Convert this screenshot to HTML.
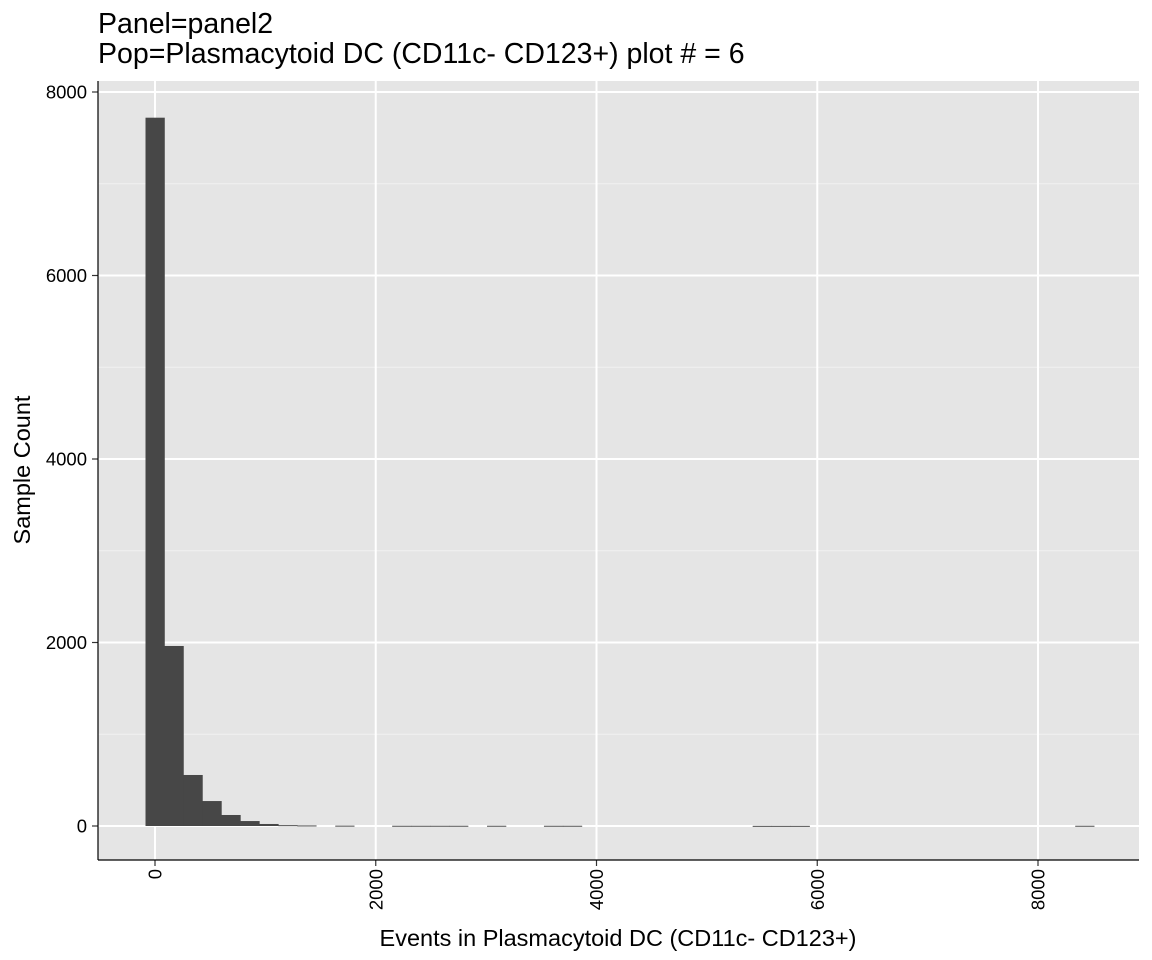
<!DOCTYPE html>
<html><head><meta charset="utf-8"><style>
html,body{margin:0;padding:0;background:#fff;}
svg{display:block;font-family:"Liberation Sans",Arial,sans-serif;}
</style></head><body>
<svg id="chart" width="1152" height="960">
<text x="98" y="33" font-size="28.5" fill="#000">Panel=panel2</text>
<text x="98" y="63" font-size="28.5" fill="#000">Pop=Plasmacytoid DC (CD11c- CD123+) plot # = 6</text>
<rect x="98" y="81" width="1041" height="779" fill="#e5e5e5"/>
<g id="grid"></g>
<g id="bars"></g>
<g id="axes"></g>
<text x="618" y="946" font-size="23.5" text-anchor="middle">Events in Plasmacytoid DC (CD11c- CD123+)</text>
<text transform="translate(30,470) rotate(-90)" font-size="23.5" text-anchor="middle">Sample Count</text>
</svg>
<script>
const binStart = -86;
const binWidth = 171.9;
const binIndex = [0,1,2,3,4,5,6,7,8,10,13,14,15,16,18,21,22,32,33,34,49];
const counts   = [7720,1962,556,272,120,54,22,9,6,4,3,3,3,3,3,3,3,2,2,2,3];
const xTicks = [0,2000,4000,6000,8000];
const yTicks = [0,2000,4000,6000,8000];

const NS="http://www.w3.org/2000/svg";
const L=98,R=1139,T=81,B=860;
function xs(v){return 155+v*(1038-155)/8000;}
function ys(v){return 826-v*(826-92)/8000;}
function mk(tag,attrs,parent){const e=document.createElementNS(NS,tag);for(const k in attrs)e.setAttribute(k,attrs[k]);parent.appendChild(e);return e;}
const grid=document.getElementById('grid'),bars=document.getElementById('bars'),axes=document.getElementById('axes');
for(let v=-1000;v<=9000;v+=2000){
  const y=ys(v); if(y>T&&y<B){const l=mk('line',{x1:L,x2:R,y1:y,y2:y,stroke:'#f2f2f2','stroke-width':1},grid);
  
  }
}
xTicks.forEach(v=>{const x=xs(v);const l=mk('line',{x1:x,x2:x,y1:T,y2:B,stroke:'#fff','stroke-width':2},grid);
  
  
  const t=mk('line',{x1:x,x2:x,y1:B,y2:B+6,stroke:'#333','stroke-width':1.2},axes);
  
  
  const tx=mk('text',{transform:`translate(${x+6.5},${B+9}) rotate(-90)`,'font-size':18.5,'text-anchor':'end',fill:'#000'},axes);
  tx.textContent=v;
  
  
});
yTicks.forEach(v=>{const y=ys(v);const l=mk('line',{x1:L,x2:R,y1:y,y2:y,stroke:'#fff','stroke-width':2},grid);
  
  
  const t=mk('line',{x1:L-6,x2:L,y1:y,y2:y,stroke:'#333','stroke-width':1.2},axes);
  
  
  const tx=mk('text',{x:L-11,y:y+6.5,'font-size':18.5,'text-anchor':'end',fill:'#000'},axes);
  tx.textContent=v;
  
  
});
binIndex.forEach((k,i)=>{
  const x0=xs(binStart+k*binWidth),x1=xs(binStart+(k+1)*binWidth);
  const y=ys(counts[i]);
  const r=mk('rect',{x:x0,y:y,width:x1-x0+0.3,height:Math.max(ys(0)-y,1),fill:'#474747'},bars);
  
  
});
const ax=mk('line',{x1:L,x2:L,y1:T,y2:B,stroke:'#000','stroke-width':1.2},axes);


const bx=mk('line',{x1:L,x2:R,y1:B,y2:B,stroke:'#000','stroke-width':1.2},axes);


</script>
</body></html>
